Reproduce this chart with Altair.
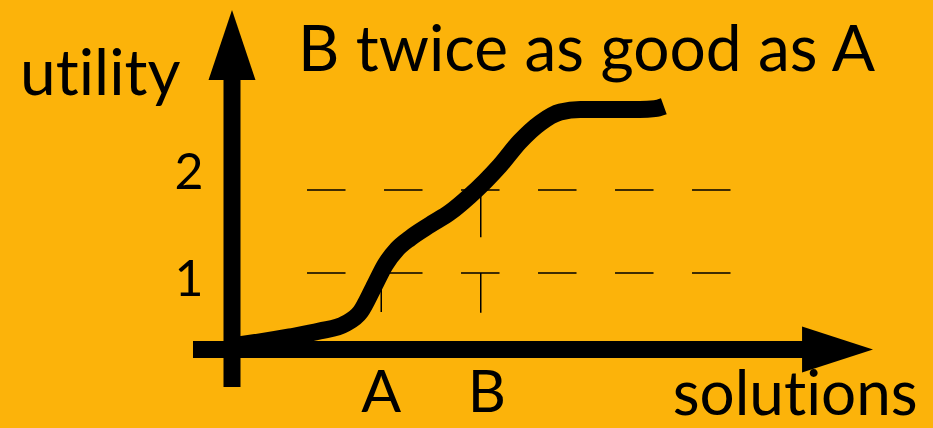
import altair as alt
import pandas as pd

# Curve: utility as a function of the solutions axis
curve_x = [0.05, 0.28, 0.58, 0.88, 1.14, 1.29, 1.42, 1.54, 1.66, 1.79, 1.99, 2.19,
           2.39, 2.54, 2.69, 2.89, 3.10, 3.30, 3.50, 3.80, 4.10, 4.25, 4.34]
curve_y = [0.13, 0.17, 0.23, 0.30, 0.39, 0.53, 0.82, 1.10, 1.29, 1.42, 1.58, 1.73,
           1.93, 2.10, 2.29, 2.58, 2.81, 2.94, 2.97, 2.97, 2.97, 2.98, 3.01]

# Reference levels and the two marked solutions
levels = [1, 2]
level_labels = ["1", "2"]
solutions = ["A", "B"]
solution_x = [1.5, 2.5]

BG = "#fcb30a"
FONT = "Lato"
ZWNJ = "\u200c"  # keeps "t" and "i" as separate glyphs (no ligature)

X_DOMAIN = [-2.3317, 7.0452]
Y_DOMAIN = [-0.8675, 4.2892]
xs = alt.Scale(domain=X_DOMAIN, nice=False, zero=False)
ys = alt.Scale(domain=Y_DOMAIN, nice=False, zero=False)

def X(field, **kw):
    return alt.X(field, type="quantitative", scale=xs, axis=None, **kw)

def Y(field, **kw):
    return alt.Y(field, type="quantitative", scale=ys, axis=None, **kw)

# dashed guide lines at each utility level
guides = pd.DataFrame({"x": [0.754] * len(levels), "x2": [5.02] * len(levels), "y": levels})
guide_layer = alt.Chart(guides).mark_rule(
    color="black", strokeWidth=1.5, strokeDash=[38.5, 38.5]
).encode(x=X("x"), x2="x2", y=Y("y"))

# short drops under A and B
drops = pd.DataFrame({
    "x": [solution_x[0], solution_x[1], solution_x[1]],
    "y": [1.0, 2.0, 1.0],
    "y2": [0.53, 1.43, 0.52],
})
drop_layer = alt.Chart(drops).mark_rule(color="black", strokeWidth=1.5).encode(
    x=X("x"), y=Y("y"), y2="y2"
)

curve = pd.DataFrame({"x": curve_x, "y": curve_y})
curve_layer = alt.Chart(curve).mark_line(
    color="black", strokeWidth=17, strokeCap="butt", strokeJoin="round",
    interpolate="monotone"
).encode(x=X("x"), y=Y("y"))

# axis shafts
vshaft = pd.DataFrame({"x": [0.0], "y": [-0.373], "y2": [3.40]})
hshaft = pd.DataFrame({"x": [-0.392], "x2": [5.80], "y": [0.078]})
vshaft_layer = alt.Chart(vshaft).mark_rule(color="black", strokeWidth=17, strokeCap="butt").encode(
    x=X("x"), y=Y("y"), y2="y2"
)
hshaft_layer = alt.Chart(hshaft).mark_rule(color="black", strokeWidth=17, strokeCap="butt").encode(
    x=X("x"), x2="x2", y=Y("y")
)

# arrow heads as filled triangles
vhead = pd.DataFrame({"y": [3.325, 4.169], "xl": [-0.236, 0.0], "xr": [0.236, 0.0]})
vhead_layer = alt.Chart(vhead).mark_area(color="black", orient="horizontal", interpolate="linear").encode(
    y=Y("y"), x=X("xl"), x2="xr"
)
hhead = pd.DataFrame({"x": [5.729, 6.442], "yt": [0.355, 0.078], "yb": [-0.199, 0.078]})
hhead_layer = alt.Chart(hhead).mark_area(color="black", orient="vertical", interpolate="linear").encode(
    x=X("x"), y=Y("yt"), y2="yb"
)

# text
def text_layer(df, align, size):
    return alt.Chart(df).mark_text(
        font=FONT, fontSize=size, color="black", align=align, baseline="alphabetic"
    ).encode(x=X("x"), y=Y("y"), text="t:N")

title_df = pd.DataFrame({"x": [3.563], "y": [3.434], "t": ["B twice as good as A"]})
ylab_df = pd.DataFrame({"x": [-2.13], "y": [3.145], "t": ["ut" + ZWNJ + "ility"]})
xlab_df = pd.DataFrame({"x": [5.66], "y": [-0.71], "t": ["solut" + ZWNJ + "ions"]})
sol_df = pd.DataFrame({"x": [1.5, 2.56], "y": [-0.675, -0.675], "t": solutions})
lvl_df = pd.DataFrame({"x": [-0.432, -0.432], "y": [0.723, 2.01], "t": level_labels})

chart = alt.layer(
    guide_layer, drop_layer, curve_layer,
    vshaft_layer, hshaft_layer, vhead_layer, hhead_layer,
    text_layer(title_df, "center", 64),
    text_layer(ylab_df, "left", 64),
    text_layer(xlab_df, "center", 62),
    text_layer(sol_df, "center", 59),
    text_layer(lvl_df, "center", 50),
).properties(
    width=933, height=428, padding=0, autosize=alt.AutoSizeParams(type="none"),
    background=BG,
).configure_view(stroke=None)

chart.save("out.html", embed_options={"renderer": "svg", "actions": False})
